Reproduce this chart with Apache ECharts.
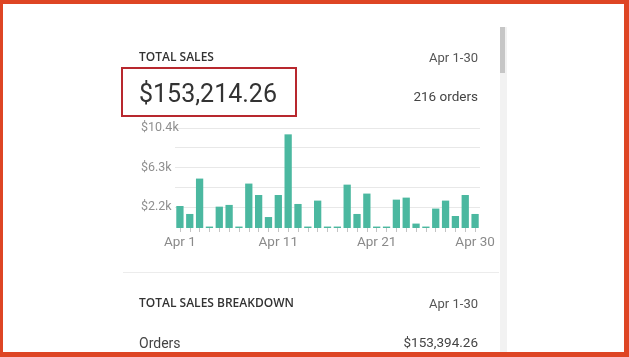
<!DOCTYPE html>
<html>
<head>
<meta charset="utf-8">
<script src="https://cdn.jsdelivr.net/npm/echarts@6/dist/echarts.min.js"></script>
<style>
  html, body { margin: 0; padding: 0; background: #ffffff; }
  #chart { width: 629px; height: 357px; }
</style>
</head>
<body>
<div id="chart"></div>
<script>
// ---- data ----
const days = ['1','2','3','4','5','6','7','8','9','10','11','12','13','14','15','16','17','18','19','20','21','22','23','24','25','26','27','28','29','30','31'];
const sales = [2290,1460,5140,150,2220,2400,150,4620,3430,1140,3430,9740,2500,150,2850,150,150,4510,1460,3580,150,150,2950,3160,460,150,2020,2850,1250,3430,1460];
const xTickIndex = [0, 10, 20, 30];
const xTickLabels = ['Apr 1', 'Apr 11', 'Apr 21', 'Apr 30'];
const yGridValues = [2200, 4250, 6300, 8350, 10400];
const yLabelValues = [2200, 6300, 10400];
const headerTitle = 'TOTAL SALES';
const headerRange = 'Apr 1-30';
const totalText = '$153,214.26';
const ordersText = '216 orders';
const breakdownTitle = 'TOTAL SALES BREAKDOWN';
const breakdownRow = ['Orders', '$153,394.26'];

const chart = echarts.init(document.getElementById('chart'), null, { renderer: 'canvas' });

const FONT = 'Roboto, "Open Sans", sans-serif';
const HFONT = '"Open Sans", Roboto, sans-serif';

chart.setOption({
  animation: false,
  backgroundColor: '#ffffff',
  grid: { left: 175, top: 128, width: 305, height: 100, containLabel: false },
  xAxis: {
    type: 'category',
    data: days,
    boundaryGap: true,
    axisLine: { show: false },
    axisTick: { show: true, alignWithLabel: true, interval: 0, length: 4, lineStyle: { color: '#c4c4c4', width: 1 } },
    axisLabel: {
      interval: (i) => xTickIndex.indexOf(i) >= 0,
      formatter: (v, i) => { const k = xTickIndex.indexOf(i); return k >= 0 ? xTickLabels[k] : ''; },
      color: '#8a8a8a', fontSize: 13.5, fontFamily: FONT, margin: 8,
      showMinLabel: true, showMaxLabel: true, hideOverlap: false
    },
    splitLine: { show: false }
  },
  yAxis: {
    type: 'value',
    min: 0,
    max: 10400,
    axisLine: { show: false },
    axisTick: { show: false, customValues: yGridValues },
    axisLabel: {
      customValues: yLabelValues,
      formatter: (v) => '$' + (v / 1000).toFixed(1) + 'k',
      color: '#8f8f8f', fontSize: 12.5, fontFamily: FONT, align: 'left', margin: 34
    },
    splitLine: { show: true, lineStyle: { color: '#e8e8e8', width: 1 } }
  },
  series: [{
    type: 'bar',
    data: sales,
    barCategoryGap: '26%',
    itemStyle: { color: '#4bb8a0' }
  }],
  graphic: [
    // orange outer frame
    { type: 'rect', silent: true, z: -10, shape: { x: 0, y: 0, width: 629, height: 357 }, style: { fill: '#de4524' } },
    { type: 'rect', silent: true, z: -9, shape: { x: 3, y: 4, width: 621, height: 348 }, style: { fill: '#ffffff' } },
    // scrollbar
    { type: 'rect', silent: true, shape: { x: 500, y: 27, width: 7, height: 325 }, style: { fill: '#f2f2f2' } },
    { type: 'rect', silent: true, shape: { x: 500, y: 27, width: 5, height: 46 }, style: { fill: '#c6c6c6' } },
    // header
    { type: 'text', left: 139, top: 52, style: { text: headerTitle, fill: '#333333', font: '600 12px ' + HFONT } },
    { type: 'text', right: 151, top: 52, style: { text: headerRange, fill: '#555555', font: '13px ' + FONT, align: 'right' } },
    // red highlight box
    { type: 'rect', silent: true, shape: { x: 122, y: 68, width: 174, height: 48 }, style: { fill: 'none', stroke: '#b8282e', lineWidth: 2 } },
    { type: 'text', left: 139, top: 83, style: { text: totalText, fill: '#333333', font: '25px ' + FONT } },
    { type: 'text', right: 151, top: 91, style: { text: ordersText, fill: '#444444', font: '13.5px ' + FONT, align: 'right' } },
    // separator
    { type: 'rect', silent: true, shape: { x: 123, y: 272, width: 376, height: 1 }, style: { fill: '#ececec' } },
    // breakdown
    { type: 'text', left: 139, top: 298, style: { text: breakdownTitle, fill: '#333333', font: '600 12px ' + HFONT } },
    { type: 'text', right: 151, top: 298, style: { text: headerRange, fill: '#555555', font: '13px ' + FONT, align: 'right' } },
    { type: 'text', left: 139, top: 337, style: { text: breakdownRow[0], fill: '#444444', font: '14px ' + FONT } },
    { type: 'text', right: 151, top: 337, style: { text: breakdownRow[1], fill: '#444444', font: '13.5px ' + FONT, align: 'right' } }
  ]
});
</script>
</body>
</html>
